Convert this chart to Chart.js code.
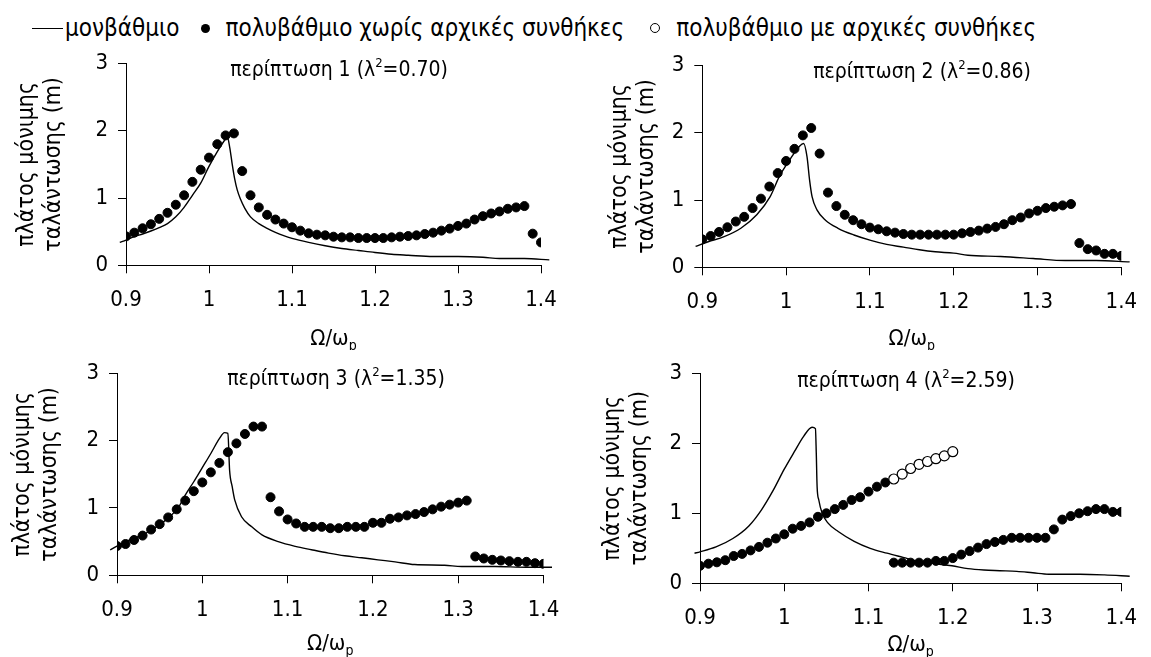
<!DOCTYPE html>
<html lang="el">
<head>
<meta charset="utf-8">
<title>πλάτος μόνιμης ταλάντωσης</title>
<script src="https://cdn.jsdelivr.net/npm/chart.js@4.4.1/dist/chart.umd.min.js"></script>
<style>
  html, body { margin: 0; padding: 0; background: #fff; }
  body { width: 1151px; height: 657px; position: relative; overflow: hidden;
         font-family: "DejaVu Sans Condensed", "DejaVu Sans", sans-serif; color: #000; }
  .legend { position: absolute; left: 32px; top: 14px; font-size: 24px; white-space: nowrap;
            display: flex; align-items: center; }
  .legend .item { display: flex; align-items: center; margin-right: 26px; }
  .legend .item:first-child { margin-right: 22px; }
  .legend .line { display: inline-block; width: 31px; border-top: 1.5px solid #000; margin-right: 2px; }
  .legend .dot { display: inline-block; width: 9px; height: 9px; border-radius: 50%; background: #000; margin-right: 15px; }
  .legend .ring { display: inline-block; width: 8px; height: 8px; border-radius: 50%; border: 1px solid #000; margin-right: 16px; }
  canvas { position: absolute; }
</style>
</head>
<body>

<div class="legend">
  <span class="item"><i class="line"></i>μονβάθμιο</span>
  <span class="item"><i class="dot"></i>πολυβάθμιο χωρίς αρχικές συνθήκες</span>
  <span class="item"><i class="ring"></i>πολυβάθμιο με αρχικές συνθήκες</span>
</div>

<canvas id="p1" width="575" height="310" style="left:0;top:40px"></canvas>
<canvas id="p2" width="576" height="310" style="left:575px;top:40px"></canvas>
<canvas id="p3" width="575" height="307" style="left:0;top:350px"></canvas>
<canvas id="p4" width="576" height="307" style="left:575px;top:350px"></canvas>

<script>
// Ω/ωp values of the multi-degree-of-freedom runs
const omega = [
  0.90, 0.91, 0.92, 0.93, 0.94, 0.95, 0.96, 0.97, 0.98, 0.99,
  1.00, 1.01, 1.02, 1.03, 1.04, 1.05, 1.06, 1.07, 1.08, 1.09,
  1.10, 1.11, 1.12, 1.13, 1.14, 1.15, 1.16, 1.17, 1.18, 1.19,
  1.20, 1.21, 1.22, 1.23, 1.24, 1.25, 1.26, 1.27, 1.28, 1.29,
  1.30, 1.31, 1.32, 1.33, 1.34, 1.35, 1.36, 1.37, 1.38, 1.39,
  1.40
];

const xTickValues = [0.9, 1, 1.1, 1.2, 1.3, 1.4];
const caseNames = ['περίπτωση 1', 'περίπτωση 2', 'περίπτωση 3', 'περίπτωση 4'];
const lambdaSq = ['0.70', '0.86', '1.35', '2.59'];

// πολυβάθμιο χωρίς αρχικές συνθήκες
const multi1 = [
  0.43, 0.485, 0.55, 0.61, 0.69, 0.78, 0.90, 1.04, 1.24, 1.42,
  1.60, 1.80, 1.93, 1.96, 1.40, 1.04, 0.86, 0.75, 0.68, 0.62,
  0.565, 0.515, 0.475, 0.455, 0.445, 0.425, 0.415, 0.415, 0.405, 0.405,
  0.405, 0.405, 0.415, 0.425, 0.435, 0.445, 0.465, 0.485, 0.515, 0.545,
  0.585, 0.62, 0.68, 0.73, 0.77, 0.80, 0.84, 0.86, 0.88, 0.47,
  0.34
];
const multi2 = [
  0.415, 0.465, 0.525, 0.595, 0.68, 0.75, 0.88, 1.02, 1.20, 1.40,
  1.58, 1.76, 1.96, 2.07, 1.69, 1.11, 0.91, 0.78, 0.70, 0.64,
  0.59, 0.565, 0.535, 0.515, 0.495, 0.485, 0.485, 0.485, 0.485, 0.485,
  0.485, 0.505, 0.525, 0.545, 0.575, 0.60, 0.64, 0.70, 0.74, 0.80,
  0.84, 0.88, 0.90, 0.92, 0.94, 0.36, 0.27, 0.25, 0.20, 0.20,
  0.17
];
const multi3 = [
  0.435, 0.465, 0.525, 0.59, 0.68, 0.76, 0.86, 0.98, 1.11, 1.25,
  1.38, 1.53, 1.67, 1.83, 1.96, 2.10, 2.21, 2.21, 1.16, 0.95,
  0.83, 0.77, 0.72, 0.72, 0.72, 0.70, 0.70, 0.72, 0.72, 0.72,
  0.78, 0.78, 0.84, 0.86, 0.89, 0.91, 0.94, 0.98, 1.02, 1.05,
  1.08, 1.11, 0.28, 0.25, 0.23, 0.22, 0.21, 0.20, 0.20, 0.18,
  0.17
];
const multi4 = [
  0.25, 0.28, 0.30, 0.33, 0.39, 0.42, 0.47, 0.52, 0.58, 0.64,
  0.70, 0.78, 0.82, 0.87, 0.95, 1.00, 1.06, 1.12, 1.19, 1.23,
  1.31, 1.38, 1.44, 0.295, 0.295, 0.295, 0.295, 0.295, 0.32, 0.32,
  0.36, 0.41, 0.46, 0.51, 0.56, 0.59, 0.62, 0.65, 0.65, 0.65,
  0.65, 0.65, 0.77, 0.91, 0.96, 1.00, 1.03, 1.06, 1.06, 1.02,
  1.02
];

// πολυβάθμιο με αρχικές συνθήκες (only case 4)
const open4X = [1.13, 1.14, 1.15, 1.16, 1.17, 1.18, 1.19, 1.20];
const open4Y = [1.49, 1.56, 1.64, 1.70, 1.74, 1.78, 1.82, 1.88];

// μονοβάθμιο response curves
const sdof1X = [0.8925, 0.90, 0.91, 0.92, 0.93, 0.94, 0.95, 0.96, 0.97, 0.98, 0.99, 1.00, 1.01, 1.02, 1.022,
  1.025, 1.028, 1.031, 1.034, 1.038, 1.043, 1.05, 1.06, 1.07, 1.08, 1.09, 1.10, 1.12, 1.14, 1.16,
  1.18, 1.20, 1.22, 1.24, 1.27, 1.30, 1.33, 1.35, 1.38, 1.41];
const sdof1Y = [0.34, 0.375, 0.425, 0.465, 0.51, 0.56, 0.62, 0.72, 0.86, 1.04, 1.22, 1.47, 1.69, 1.88, 1.91,
  1.75, 1.50, 1.28, 1.12, 0.98, 0.85, 0.72, 0.62, 0.55, 0.49, 0.44, 0.40, 0.34, 0.29, 0.25,
  0.22, 0.19, 0.165, 0.15, 0.13, 0.13, 0.12, 0.10, 0.10, 0.08];

const sdof2X = [0.892, 0.907, 0.926, 0.946, 0.965, 0.981, 0.992, 1.004, 1.016, 1.021, 1.025, 1.028, 1.031,
  1.037, 1.047, 1.062, 1.081, 1.101, 1.12, 1.14, 1.159, 1.178, 1.20, 1.217, 1.256, 1.295, 1.333, 1.37, 1.41];
const sdof2Y = [0.31, 0.38, 0.455, 0.58, 0.78, 1.05, 1.35, 1.59, 1.80, 1.84, 1.64, 1.30, 1.05,
  0.85, 0.70, 0.58, 0.48, 0.40, 0.34, 0.30, 0.26, 0.23, 0.21, 0.18, 0.16, 0.13, 0.10, 0.10, 0.08];

const sdof3X = [0.892, 0.90, 0.913, 0.933, 0.952, 0.972, 0.98, 0.99, 1.00, 1.01, 1.02, 1.026, 1.030, 1.032,
  1.035, 1.038, 1.046, 1.058, 1.07, 1.089, 1.109, 1.128, 1.148, 1.167, 1.187, 1.206, 1.226, 1.249,
  1.284, 1.304, 1.343, 1.38, 1.41];
const sdof3Y = [0.376, 0.435, 0.515, 0.62, 0.77, 1.01, 1.19, 1.39, 1.60, 1.81, 2.03, 2.12, 2.11, 1.56,
  1.32, 1.12, 0.87, 0.72, 0.60, 0.50, 0.43, 0.38, 0.33, 0.29, 0.26, 0.23, 0.20, 0.16,
  0.15, 0.13, 0.13, 0.12, 0.12];

const sdof4X = [0.8935, 0.90, 0.919, 0.939, 0.958, 0.973, 0.987, 1.00, 1.012, 1.023, 1.033, 1.037, 1.038,
  1.039, 1.041, 1.045, 1.052, 1.064, 1.083, 1.102, 1.122, 1.141, 1.16, 1.179, 1.199, 1.218, 1.237,
  1.256, 1.276, 1.295, 1.314, 1.351, 1.38, 1.41];
const sdof4Y = [0.43, 0.45, 0.52, 0.64, 0.82, 1.05, 1.33, 1.63, 1.88, 2.10, 2.23, 2.21, 1.86,
  1.38, 1.19, 1.00, 0.86, 0.74, 0.60, 0.50, 0.43, 0.37, 0.31, 0.28, 0.25, 0.21, 0.19,
  0.18, 0.17, 0.15, 0.13, 0.13, 0.12, 0.10];

const FONT = '"DejaVu Sans Condensed", "DejaVu Sans", sans-serif';
Chart.defaults.font.family = FONT;
Chart.defaults.color = '#000';

const pts = (xs, ys) => xs.map((x, i) => ({ x: x, y: ys[i] }));

// draws a run of text pieces (normal / superscript / subscript) centred on cx
function drawPieces(ctx, pieces, cx, baseline) {
  let total = 0;
  pieces.forEach(p => {
    ctx.font = p.size + 'px ' + FONT;
    p.w = ctx.measureText(p.t).width;
    total += p.w;
  });
  let x = cx - total / 2;
  pieces.forEach(p => {
    ctx.font = p.size + 'px ' + FONT;
    ctx.fillText(p.t, x, baseline + p.dy);
    x += p.w;
  });
}

const panelText = {
  id: 'panelText',
  afterDraw(chart, args, opts) {
    const { ctx, chartArea } = chart;
    ctx.save();
    ctx.fillStyle = '#000';
    ctx.textAlign = 'left';
    ctx.textBaseline = 'alphabetic';
    drawPieces(ctx, [
      { t: opts.name + ' (λ', size: 21, dy: 0 },
      { t: '2', size: 13, dy: -9 },
      { t: '=' + opts.lambda + ')', size: 21, dy: 0 }
    ], opts.titleX, opts.titleY);
    drawPieces(ctx, [
      { t: 'Ω/ω', size: 22, dy: 0 },
      { t: 'p', size: 14, dy: 5 }
    ], (chartArea.left + chartArea.right) / 2, opts.axisY);
    ctx.restore();
  }
};

function makePanel(id, box, idx, datasets) {
  const cv = document.getElementById(id);
  return new Chart(cv, {
    type: 'scatter',
    data: { datasets: datasets },
    options: {
      responsive: false,
      animation: false,
      devicePixelRatio: 1,
      layout: { padding: { top: box.top - box.y, right: box.x + box.w - box.right, left: 0, bottom: 0 } },
      plugins: {
        legend: { display: false },
        tooltip: { enabled: false },
        panelText: {
          name: caseNames[idx],
          lambda: lambdaSq[idx],
          titleX: box.titleX - box.x,
          titleY: box.titleY - box.y,
          axisY: box.axisY - box.y
        }
      },
      scales: {
        x: {
          type: 'linear',
          min: 0.9,
          max: 1.4,
          afterBuildTicks: s => { s.ticks = xTickValues.map(v => ({ value: v })); },
          afterFit: s => { s.height = box.y + box.h - box.bottom; },
          ticks: { autoSkip: false, maxRotation: 0, padding: 14, font: { size: 22 }, callback: v => String(v) },
          grid: { drawOnChartArea: false, drawTicks: true, tickLength: 8, color: '#000', lineWidth: 1 },
          border: { display: true, color: '#000', width: 1 }
        },
        y: {
          min: 0,
          max: 3,
          afterFit: s => { s.width = box.left - box.x; },
          ticks: { stepSize: 1, padding: 10, font: { size: 22 } },
          grid: { drawOnChartArea: false, drawTicks: true, tickLength: 8, color: '#000', lineWidth: 1 },
          border: { display: true, color: '#000', width: 1 },
          title: {
            display: true,
            text: ['πλάτος μόνιμης', 'ταλάντωσης (m)'],
            font: { size: 23, lineHeight: 1.15 },
            padding: { top: box.yTitlePad, bottom: 0 }
          }
        }
      }
    },
    plugins: [panelText]
  });
}

function dotSet(xs, ys) {
  return {
    data: pts(xs, ys),
    pointRadius: 4.5,
    pointBackgroundColor: '#000',
    pointBorderColor: '#000',
    pointBorderWidth: 1,
    order: 1
  };
}

function lineSet(xs, ys) {
  return {
    data: pts(xs, ys),
    showLine: true,
    pointRadius: 0,
    borderColor: '#000',
    borderWidth: 1.4,
    cubicInterpolationMode: 'monotone',
    clip: false,
    order: 2
  };
}

// page-space geometry of each panel: canvas box, plot area, text anchors
const boxes = [
  { x: 0,   y: 40,  w: 575, h: 310, left: 126,   right: 541,    top: 63.4,  bottom: 265.3, titleX: 339, titleY: 76,    axisY: 345, yTitlePad: 14 },
  { x: 575, y: 40,  w: 576, h: 310, left: 702.3, right: 1132,   top: 65.4,  bottom: 267.3, titleX: 922, titleY: 78,    axisY: 345, yTitlePad: 32 },
  { x: 0,   y: 350, w: 575, h: 307, left: 117,   right: 543.5,  top: 373.4, bottom: 575.3, titleX: 336, titleY: 385,   axisY: 650, yTitlePad: 10 },
  { x: 575, y: 350, w: 576, h: 307, left: 700,   right: 1132.5, top: 373.3, bottom: 583.3, titleX: 906, titleY: 386.5, axisY: 651, yTitlePad: 25 }
];

makePanel('p1', boxes[0], 0, [dotSet(omega, multi1), lineSet(sdof1X, sdof1Y)]);
makePanel('p2', boxes[1], 1, [dotSet(omega, multi2), lineSet(sdof2X, sdof2Y)]);
makePanel('p3', boxes[2], 2, [dotSet(omega, multi3), lineSet(sdof3X, sdof3Y)]);
makePanel('p4', boxes[3], 3, [
  {
    data: pts(open4X, open4Y),
    pointRadius: 5,
    pointBackgroundColor: '#fff',
    pointBorderColor: '#000',
    pointBorderWidth: 1.2,
    order: 0
  },
  dotSet(omega, multi4),
  lineSet(sdof4X, sdof4Y)
]);
</script>
</body>
</html>
